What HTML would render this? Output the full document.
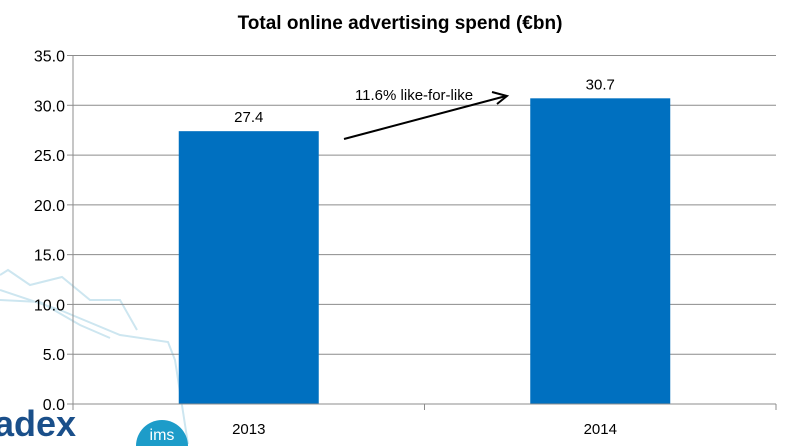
<!DOCTYPE html>
<html><head><meta charset="utf-8"><style>
html,body{margin:0;padding:0;background:#fff;width:789px;height:446px;overflow:hidden;}
svg{display:block;font-family:"Liberation Sans",Arial,sans-serif;overflow:hidden;}
</style></head><body>
<svg width="789" height="446" viewBox="0 0 789 446">
<g stroke="#cde6f0" stroke-width="2" fill="none">
<polyline points="0,275 8,270 30,285 62,277 90,300 120,300 137,330"/>
<polyline points="0,290 60,310 120,335 168,342 175,360 188,444"/>
<polyline points="0,300 40,302 80,325 110,338"/>
</g>
<text x="400" y="29" text-anchor="middle" font-size="19" font-weight="bold" fill="#000">Total online advertising spend (€bn)</text>
<g id="grid"></g>
<g id="yaxis"></g>
<g id="bars"></g>
<g id="xaxis"></g>
<g>
<text x="414" y="100" text-anchor="middle" font-size="15" fill="#000">11.6% like-for-like</text>
<line x1="344" y1="139" x2="506" y2="96" stroke="#000" stroke-width="2"/>
<polyline points="492,92 507,96 497,104" fill="none" stroke="#000" stroke-width="2"/>
</g>
<g>
<text x="-6" y="436" font-size="36" font-weight="bold" fill="#1a4f8a">adex</text>
<path d="M136,446 A26,26 0 0 1 188,446 Z" fill="#1d9cc9"/>
<text x="162" y="440" text-anchor="middle" font-size="16" fill="#fff">ims</text>
</g>
</svg>
<script>
const categories = ["2013", "2014"];
const values = [27.4, 30.7];
const yTicks = [0, 5, 10, 15, 20, 25, 30, 35];
const yTickLabels = ["0.0","5.0","10.0","15.0","20.0","25.0","30.0","35.0"];
const NS="http://www.w3.org/2000/svg";
const x0=73, x1=776, yBase=404, yTop=55.5, vMax=35;
function y(v){return yBase-(v/vMax)*(yBase-yTop);}
const band=(x1-x0)/categories.length;
function xc(i){return x0+band*(i+0.5);}
function mk(tag,attrs,parent){const e=document.createElementNS(NS,tag);for(const k in attrs)e.setAttribute(k,attrs[k]);parent.appendChild(e);return e;}
const grid=document.getElementById('grid'),ya=document.getElementById('yaxis'),bars=document.getElementById('bars'),xa=document.getElementById('xaxis');
yTicks.forEach((t,i)=>{
  if(t>0){const g=mk('line',{x1:x0,x2:x1,y1:y(t),y2:y(t),stroke:'#8c8c8c','stroke-width':1},grid);
  
  }
  mk('line',{x1:x0-6,x2:x0,y1:y(t),y2:y(t),stroke:'#8c8c8c'},ya);
  const tx=mk('text',{x:x0-8,y:y(t)+6,'text-anchor':'end','font-size':16,fill:'#000'},ya);
  tx.textContent=yTickLabels[i];
  
  
});
mk('line',{x1:x0,x2:x0,y1:yTop,y2:yBase,stroke:'#8c8c8c'},ya);
categories.forEach((c,i)=>{
  const bw=140;
  const r=mk('rect',{x:xc(i)-bw/2,y:y(values[i]),width:bw,height:yBase-y(values[i]),fill:'#0070c0'},bars);
  
  
  const l=mk('text',{x:xc(i),y:y(values[i])-9,'text-anchor':'middle','font-size':15,fill:'#000'},bars);
  l.textContent=values[i].toFixed(1);
  
  
  const t=mk('text',{x:xc(i),y:434,'text-anchor':'middle','font-size':15,fill:'#000'},xa);
  t.textContent=c;
  
  
});
mk('line',{x1:x0-6,x2:x1,y1:yBase,y2:yBase,stroke:'#8c8c8c'},xa);
for(let i=0;i<=categories.length;i++){mk('line',{x1:x0+band*i,x2:x0+band*i,y1:yBase,y2:yBase+6,stroke:'#8c8c8c'},xa);}
</script>
</body></html>
